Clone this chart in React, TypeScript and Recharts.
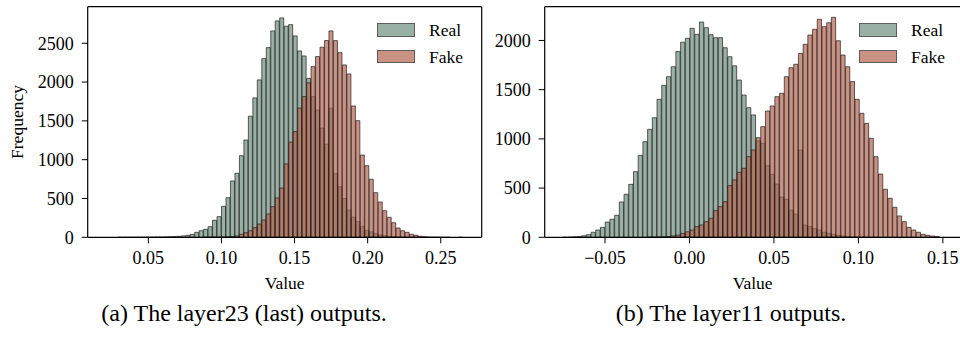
import React from 'react';
import { BarChart, Bar, XAxis, YAxis, ReferenceLine } from 'recharts';

const FONT = '"Liberation Serif", "Times New Roman", serif';

// ---- (a) layer23 outputs: 80 shared bins ----
const layer23BinStart = 0.0204;
const layer23BinWidth = 0.0030625;
const layer23Real = [
  0, 0, 0, 1, 1, 1, 1, 2, 2, 3,
  3, 4, 5, 6, 8, 10, 13, 18, 25, 38,
  64, 85, 103, 137, 219, 266, 400, 510, 726, 825,
  1052, 1254, 1560, 1796, 2028, 2302, 2444, 2659, 2788, 2827,
  2720, 2740, 2595, 2401, 2337, 2048, 1812, 1640, 1408, 1200,
  1663, 820, 652, 500, 352, 260, 200, 140, 90, 70,
  45, 30, 20, 13, 8, 5, 3, 2, 1, 1,
  0, 0, 0, 0, 0, 0, 0, 0, 0, 0,
];
const layer23Fake = [
  0, 0, 0, 0, 0, 0, 0, 0, 0, 0,
  0, 0, 0, 0, 0, 0, 0, 0, 0, 0,
  0, 0, 1, 1, 2, 3, 4, 6, 10, 17,
  39, 59, 85, 124, 171, 223, 300, 394, 507, 635,
  945, 1227, 1361, 1665, 1812, 1990, 2199, 2328, 2449, 2535,
  2659, 2534, 2379, 2221, 2105, 1692, 1503, 1060, 923, 748,
  575, 455, 343, 258, 188, 120, 85, 64, 39, 26,
  13, 8, 5, 3, 2, 1, 1, 0, 0, 1,
];
const layer23XDomain = [0.0085, 0.278];
const layer23YMax = 2971;
const layer23XTicks = [0.05, 0.1, 0.15, 0.2, 0.25];
const layer23YTicks = [0, 500, 1000, 1500, 2000, 2500];

// ---- (b) layer11 outputs: 80 shared bins ----
const layer11BinStart = -0.075;
const layer11BinWidth = 0.00279;
const layer11Real = [
  1, 3, 5, 8, 15, 27, 51, 74, 101, 155,
  183, 223, 359, 437, 538, 667, 833, 972, 1097, 1215,
  1402, 1544, 1632, 1733, 1888, 1982, 2022, 2123, 2062, 2187,
  2130, 2058, 2028, 2028, 1926, 1835, 1743, 1598, 1446, 1317,
  1243, 981, 955, 727, 640, 541, 409, 386, 277, 237,
  886, 125, 108, 88, 74, 51, 41, 30, 20, 14,
  9, 6, 4, 3, 2, 1, 1, 0, 0, 0,
  0, 0, 0, 0, 0, 0, 0, 0, 0, 0,
];
const layer11Fake = [
  0, 0, 0, 0, 0, 0, 0, 0, 0, 0,
  0, 0, 0, 0, 0, 0, 0, 0, 1, 2,
  3, 5, 8, 15, 22, 39, 56, 74, 108, 125,
  159, 193, 271, 311, 362, 525, 583, 660, 701, 819,
  887, 1012, 1124, 1283, 1334, 1429, 1463, 1632, 1723, 1758,
  1869, 1961, 2055, 2113, 2215, 2140, 2180, 2235, 1997, 1852,
  1733, 1582, 1402, 1260, 1158, 1006, 819, 643, 488, 396,
  305, 217, 159, 101, 74, 51, 30, 20, 13, 7,
];
const layer11XDomain = [-0.0857, 0.1605];
const layer11YMax = 2343;
const layer11XTicks = [-0.05, 0, 0.05, 0.1, 0.15];
const layer11YTicks = [0, 500, 1000, 1500, 2000];

const REAL_FILL = '#6f8f7e';
const FAKE_FILL = '#b5644f';
const FILL_OPACITY = 0.7;
const EDGE = '#1a1a1a';

type Row = { x: number; real: number; fake: number };

function buildRows(start: number, width: number, real: number[], fake: number[]): Row[] {
  return real.map((r, i) => ({ x: start + (i + 0.5) * width, real: r, fake: fake[i] }));
}

const fmtX = (v: number) => {
  const s = Math.abs(v).toFixed(2);
  return v < -1e-9 ? '\u2212' + s : s;
};

const tickStyle = { fill: '#000', fontSize: 18, fontFamily: FONT };

type PanelProps = {
  rows: Row[];
  binWidth: number;
  xDomain: number[];
  yMax: number;
  xTicks: number[];
  yTicks: number[];
  width: number;
  height: number;
  yAxisWidth: number;
  marginRight: number;
  showYLabel: boolean;
};

function HistPanel(p: PanelProps) {
  const plotTop = 6.7;
  const plotBottom = 237.3;
  const plotWidth = p.width - p.yAxisWidth - p.marginRight;
  const barSize = (plotWidth * p.binWidth) / (p.xDomain[1] - p.xDomain[0]);
  const xAxisHeight = p.height - plotBottom;
  return (
    <BarChart
      width={p.width}
      height={p.height}
      data={p.rows}
      margin={{ top: plotTop, right: p.marginRight, bottom: 0, left: 0 }}
      barGap={0}
      barCategoryGap={0}
    >
      <XAxis
        xAxisId="real"
        dataKey="x"
        type="number"
        domain={p.xDomain}
        ticks={p.xTicks}
        interval={0}
        tickFormatter={fmtX}
        tick={tickStyle}
        tickSize={6}
        tickMargin={8}
        height={xAxisHeight}
        axisLine={{ stroke: '#000', strokeWidth: 1.2 }}
        tickLine={{ stroke: '#000', strokeWidth: 1 }}
        allowDataOverflow
        label={{
          value: 'Value',
          position: 'insideBottom',
          offset: 11,
          fill: '#000',
          fontSize: 17.5,
          fontFamily: FONT,
        }}
      />
      <XAxis
        xAxisId="fake"
        dataKey="x"
        type="number"
        domain={p.xDomain}
        hide
        height={0}
        allowDataOverflow
      />
      <YAxis
        type="number"
        domain={[0, p.yMax]}
        ticks={p.yTicks}
        interval={0}
        width={p.yAxisWidth}
        tick={tickStyle}
        tickSize={6}
        tickMargin={8}
        axisLine={{ stroke: '#000', strokeWidth: 1.2 }}
        tickLine={{ stroke: '#000', strokeWidth: 1 }}
        allowDataOverflow
        label={
          p.showYLabel
            ? {
                value: 'Frequency',
                angle: -90,
                position: 'insideLeft',
                offset: 17,
                fill: '#000',
                fontSize: 17.5,
                fontFamily: FONT,
                style: { textAnchor: 'middle' },
              }
            : undefined
        }
      />
      <Bar
        xAxisId="real"
        dataKey="real"
        barSize={barSize}
        fill={REAL_FILL}
        fillOpacity={FILL_OPACITY}
        stroke={EDGE}
        strokeOpacity={0.75}
        strokeWidth={0.9}
        isAnimationActive={false}
      />
      <Bar
        xAxisId="fake"
        dataKey="fake"
        barSize={barSize}
        fill={FAKE_FILL}
        fillOpacity={FILL_OPACITY}
        stroke={EDGE}
        strokeOpacity={0.75}
        strokeWidth={0.9}
        isAnimationActive={false}
      />
      <ReferenceLine xAxisId="real" y={p.yMax} stroke="#000" strokeWidth={1.2} ifOverflow="extendDomain" />
      <ReferenceLine xAxisId="real" x={p.xDomain[1]} stroke="#000" strokeWidth={1.2} ifOverflow="extendDomain" />
    </BarChart>
  );
}

function LegendBox({ left, swatchLeft }: { left: number; swatchLeft: number }) {
  const items = [
    { name: 'Real', color: REAL_FILL, top: 23.3 },
    { name: 'Fake', color: FAKE_FILL, top: 50 },
  ];
  return (
    <>
      {items.map((it) => (
        <React.Fragment key={it.name}>
          <div
            style={{
              position: 'absolute',
              left: swatchLeft,
              top: it.top,
              width: 38,
              height: 13.4,
              boxSizing: 'border-box',
              background: it.color,
              opacity: FILL_OPACITY,
              border: `1px solid ${EDGE}`,
            }}
          />
          <div
            style={{
              position: 'absolute',
              left,
              top: it.top - 1.2,
              fontFamily: FONT,
              fontSize: 17.5,
              lineHeight: '17.5px',
              color: '#000',
              whiteSpace: 'nowrap',
            }}
          >
            {it.name}
          </div>
        </React.Fragment>
      ))}
    </>
  );
}

const captionStyle: React.CSSProperties = {
  position: 'absolute',
  top: 301,
  width: 400,
  textAlign: 'center',
  fontFamily: FONT,
  fontSize: 24,
  lineHeight: '24px',
  color: '#000',
  whiteSpace: 'nowrap',
};

export default function App() {
  const rows23 = buildRows(layer23BinStart, layer23BinWidth, layer23Real, layer23Fake);
  const rows11 = buildRows(layer11BinStart, layer11BinWidth, layer11Real, layer11Fake);
  return (
    <div
      style={{
        position: 'fixed',
        left: 0,
        top: 0,
        width: 960,
        height: 337,
        overflow: 'hidden',
        background: '#fff',
      }}
    >
      <div style={{ position: 'absolute', left: 0, top: 0 }}>
        <HistPanel
          rows={rows23}
          binWidth={layer23BinWidth}
          xDomain={layer23XDomain}
          yMax={layer23YMax}
          xTicks={layer23XTicks}
          yTicks={layer23YTicks}
          width={490}
          height={300}
          yAxisWidth={87.7}
          marginRight={8.3}
          showYLabel
        />
      </div>
      <div style={{ position: 'absolute', left: 470, top: 0 }}>
        <HistPanel
          rows={rows11}
          binWidth={layer11BinWidth}
          xDomain={layer11XDomain}
          yMax={layer11YMax}
          xTicks={layer11XTicks}
          yTicks={layer11YTicks}
          width={490.6}
          height={300}
          yAxisWidth={74.7}
          marginRight={0}
          showYLabel={false}
        />
      </div>
      <LegendBox swatchLeft={376.7} left={429} />
      <LegendBox swatchLeft={859} left={911} />
      <div style={{ ...captionStyle, left: 244 - 200 }}>(a) The layer23 (last) outputs.</div>
      <div style={{ ...captionStyle, left: 731 - 200 }}>(b) The layer11 outputs.</div>
    </div>
  );
}
